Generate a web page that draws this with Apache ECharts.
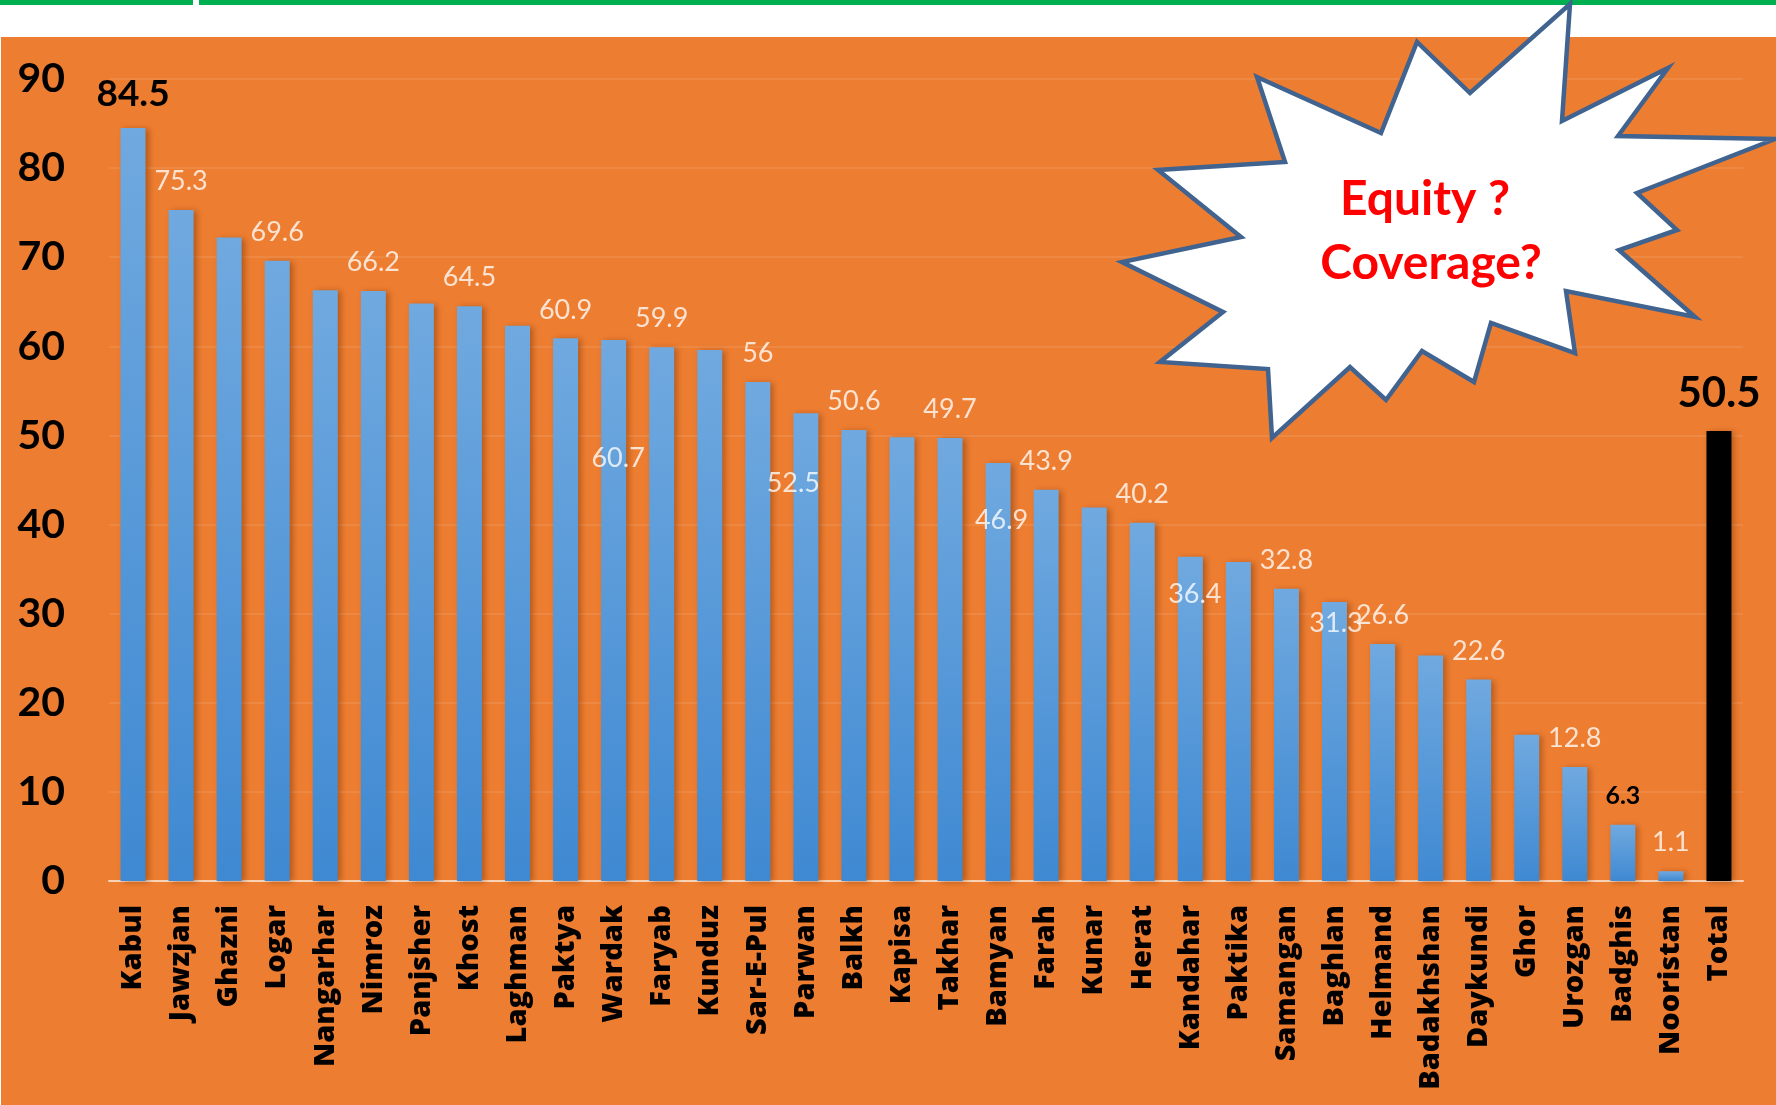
<!doctype html>
<html>
<head>
<meta charset="utf-8">
<title>Coverage by province</title>
<script src="https://cdn.jsdelivr.net/npm/echarts@6/dist/echarts.min.js"></script>
<style>
  html, body { margin: 0; padding: 0; background: #fff; }
  #page { position: relative; width: 1776px; height: 1105px; overflow: hidden; background: #fff; }
  #greenbar { position: absolute; left: 0; top: 0; width: 1776px; height: 5px; background: #00b050; }
  #gap { position: absolute; left: 193px; top: 0; width: 6px; height: 5px; background: #fff; }
  #orange { position: absolute; left: 1px; top: 37px; right: 0; bottom: 0; background: #ed7d31; }
  #chart { position: absolute; left: 0; top: 0; width: 1776px; height: 1105px; }
</style>
</head>
<body>
<div id="page">
  <div id="greenbar"></div>
  <div id="gap"></div>
  <div id="orange"></div>
  <div id="chart"></div>
</div>
<script type="text/javascript">
  // provinces, left to right
  var provinces = ['Kabul', 'Jawzjan', 'Ghazni', 'Logar', 'Nangarhar', 'Nimroz', 'Panjsher', 'Khost',
    'Laghman', 'Paktya', 'Wardak', 'Faryab', 'Kunduz', 'Sar-E-Pul', 'Parwan', 'Balkh', 'Kapisa',
    'Takhar', 'Bamyan', 'Farah', 'Kunar', 'Herat', 'Kandahar', 'Paktika', 'Samangan', 'Baghlan',
    'Helmand', 'Badakhshan', 'Daykundi', 'Ghor', 'Urozgan', 'Badghis', 'Nooristan', 'Total'];

  // coverage (%), unlabelled bars
  var coverage = [84.5, 75.3, 72.2, 69.6, 66.3, 66.2, 64.8, 64.5, 62.3, 60.9, 60.7, 59.9, 59.6, 56,
    52.5, 50.6, 49.8, 49.7, 46.9, 43.9, 41.9, 40.2, 36.4, 35.8, 32.8, 31.3, 26.6, 25.3, 22.6, 16.4,
    12.8, 6.3, 1.1, 50.5];

  // value labels printed on the chart ('' = none)
  var valueLabels = ['84.5', '75.3', '', '69.6', '', '66.2', '', '64.5', '', '60.9', '60.7', '59.9',
    '', '56', '52.5', '50.6', '', '49.7', '46.9', '43.9', '', '40.2', '36.4', '', '32.8', '31.3',
    '26.6', '', '22.6', '', '12.8', '6.3', '1.1', '50.5'];

  var yTicks = [0, 10, 20, 30, 40, 50, 60, 70, 80, 90];

  var calloutLines = ['Equity ?', 'Coverage?'];

  // label look per bar (position is relative to the bar's top-left corner)
  var labelLook = {
    'Kabul': { color: '#000', fontWeight: 'bold', fontSize: 37, distance: 15 },
    'Total': { color: '#000', fontWeight: 'bold', fontSize: 42, distance: 17 },
    'Badghis': { color: '#000', fontWeight: 'bold', fontSize: 25, distance: 16 },
    'Wardak': { position: [17, 118], align: 'center', verticalAlign: 'middle' },
    'Parwan': { position: [0, 70], align: 'center', verticalAlign: 'middle' },
    'Bamyan': { position: [16, 57], align: 'center', verticalAlign: 'middle' },
    'Kandahar': { position: [17, 38], align: 'center', verticalAlign: 'middle' },
    'Baghlan': { position: [14, 21], align: 'center', verticalAlign: 'middle' }
  };

  var blueFill = new echarts.graphic.LinearGradient(0, 0, 0, 1, [
    { offset: 0, color: '#70a9df' },
    { offset: 1, color: '#3f89d2' }
  ]);

  var barData = coverage.map(function (v, i) {
    var name = provinces[i];
    var item = { value: v };
    if (name === 'Total') {
      item.itemStyle = { color: '#000' };
    }
    if (labelLook[name]) {
      item.label = labelLook[name];
    }
    return item;
  });

  // starburst callout outline (pixel points)
  var burst = [[1257, 77], [1381, 133], [1417, 42], [1470, 93], [1570, 4], [1562, 121], [1668, 68],
    [1618, 136], [1775, 139], [1637, 193], [1677, 230], [1619, 250], [1695, 317], [1566, 291],
    [1575, 353], [1491, 323], [1474, 382], [1422, 351], [1386, 400], [1350, 367], [1272, 438],
    [1268, 369], [1160, 362], [1223, 312], [1122, 262], [1241, 237], [1158, 170], [1285, 162]];

  var myChart = echarts.init(document.getElementById('chart'));
  var option = {
    backgroundColor: 'transparent',
    animation: false,
    grid: {
      left: 109,
      right: 33,
      top: 79,
      bottom: 224
    },
    xAxis: {
      type: 'category',
      data: provinces,
      axisTick: { show: false },
      axisLine: { lineStyle: { color: '#f8d3b6', width: 2 } },
      axisLabel: {
        interval: 0,
        rotate: 90,
        margin: 24,
        color: '#000',
        fontFamily: 'Open Sans',
        fontWeight: 800,
        fontSize: 29
      }
    },
    yAxis: {
      type: 'value',
      min: yTicks[0],
      max: yTicks[yTicks.length - 1],
      interval: yTicks[1] - yTicks[0],
      axisLine: { show: false },
      axisTick: { show: false },
      splitLine: { lineStyle: { color: 'rgba(255,255,255,0.13)', width: 1.5 } },
      axisLabel: {
        margin: 44,
        color: '#000',
        fontFamily: 'Lato',
        fontWeight: 'bold',
        fontSize: 41
      }
    },
    series: [
      {
        type: 'bar',
        data: barData,
        barWidth: 25,
        itemStyle: {
          color: blueFill,
          shadowColor: 'rgba(110,45,0,0.45)',
          shadowBlur: 6,
          shadowOffsetX: 3,
          shadowOffsetY: 1
        },
        label: {
          show: true,
          position: 'top',
          distance: 15,
          color: 'rgba(255,255,255,0.78)',
          fontFamily: 'Lato',
          fontSize: 27,
          formatter: function (p) {
            return valueLabels[p.dataIndex];
          }
        }
      }
    ],
    graphic: [
      {
        type: 'polygon',
        z: 100,
        shape: { points: burst },
        style: { fill: '#fff', stroke: '#41638f', lineWidth: 4.5 }
      },
      {
        type: 'text',
        z: 101,
        x: 1425,
        y: 200,
        style: {
          text: calloutLines[0],
          fill: '#ff0000',
          font: 'bold 48px Lato',
          textAlign: 'center',
          textVerticalAlign: 'middle',
          align: 'center',
          verticalAlign: 'middle'
        }
      },
      {
        type: 'text',
        z: 101,
        x: 1431,
        y: 264,
        style: {
          text: calloutLines[1],
          fill: '#ff0000',
          font: 'bold 48px Lato',
          textAlign: 'center',
          textVerticalAlign: 'middle',
          align: 'center',
          verticalAlign: 'middle'
        }
      }
    ]
  };
  myChart.setOption(option);
</script>
</body>
</html>
